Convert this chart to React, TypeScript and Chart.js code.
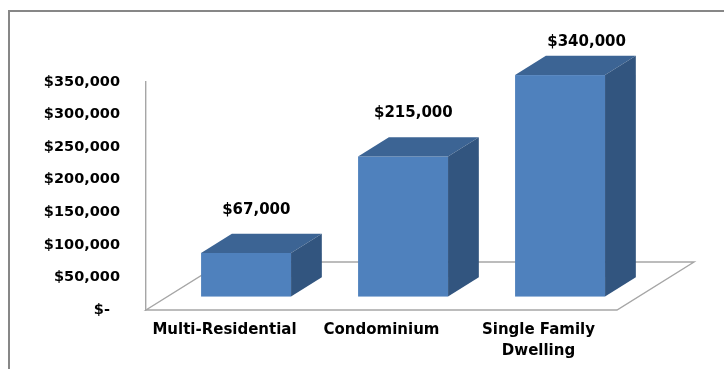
import React, { useEffect, useRef } from 'react';
import { Chart, registerables } from 'chart.js';

Chart.register(...registerables);

const categories: (string | string[])[] = ['Multi-Residential', 'Condominium', ['Single Family', 'Dwelling']];
const values = [67000, 215000, 340000];
const yMin = 0;
const yMax = 350000;
const yStep = 50000;

const FONT = 'DejaVu Sans';
const FACE = '#4f81bd';
const TOP = '#3c6494';
const SIDE = '#32557f';
const DEPTH = { x: 77, y: -48 };
const FRONT = 0.28;
const THICK = 0.4;

const fmt = (v: number) => (v === 0 ? '$-  ' : '$' + v.toLocaleString('en-US'));

const excel3d = {
  id: 'excel3d',
  beforeDraw(chart: any) {
    const ctx = chart.ctx;
    ctx.save();
    ctx.strokeStyle = '#878787';
    ctx.lineWidth = 2;
    ctx.strokeRect(9, 11, 900, 600);
    ctx.restore();
  },
  beforeDatasetsDraw(chart: any) {
    const { ctx, chartArea: a } = chart;
    ctx.save();
    ctx.strokeStyle = '#a6a6a6';
    ctx.lineWidth = 1.4;
    ctx.beginPath();
    ctx.moveTo(a.left, a.bottom);
    ctx.lineTo(a.right, a.bottom);
    ctx.lineTo(a.right + DEPTH.x, a.bottom + DEPTH.y);
    ctx.lineTo(a.left + DEPTH.x, a.bottom + DEPTH.y);
    ctx.closePath();
    ctx.stroke();
    ctx.restore();
  },
  afterDatasetsDraw(chart: any) {
    const { ctx } = chart;
    const meta = chart.getDatasetMeta(0);
    const data = chart.data.datasets[0].data as number[];
    ctx.save();
    meta.data.forEach((el: any, i: number) => {
      const { x, y, base, width } = el.getProps(['x', 'y', 'base', 'width'], true);
      const L = x - width / 2 + DEPTH.x * FRONT;
      const R = L + width;
      const T = y + DEPTH.y * FRONT;
      const B = base + DEPTH.y * FRONT;
      const dx = DEPTH.x * THICK;
      const dy = DEPTH.y * THICK;
      // front
      ctx.fillStyle = FACE;
      ctx.fillRect(L, T, width, B - T);
      // top
      ctx.fillStyle = TOP;
      ctx.beginPath();
      ctx.moveTo(L, T);
      ctx.lineTo(R, T);
      ctx.lineTo(R + dx, T + dy);
      ctx.lineTo(L + dx, T + dy);
      ctx.closePath();
      ctx.fill();
      // side
      ctx.fillStyle = SIDE;
      ctx.beginPath();
      ctx.moveTo(R, T);
      ctx.lineTo(R + dx, T + dy);
      ctx.lineTo(R + dx, B + dy);
      ctx.lineTo(R, B);
      ctx.closePath();
      ctx.fill();
      // label
      let ly = T + dy - 24;
      let lx = L + width / 2 + dx / 3;
      const minY = 42;
      if (ly < minY) {
        lx += (minY - ly) * (DEPTH.x / -DEPTH.y);
        ly = minY;
      }
      ctx.fillStyle = '#000';
      ctx.font = `bold 15px "${FONT}"`;
      ctx.textAlign = 'center';
      ctx.textBaseline = 'middle';
      ctx.fillText(fmt(data[i]), lx, ly);
    });
    ctx.restore();
  },
};

export default function App() {
  const ref = useRef<HTMLCanvasElement>(null);
  useEffect(() => {
    document.body.style.margin = '0';
    if (!ref.current) return;
    const chart = new Chart(ref.current, {
      type: 'bar',
      data: {
        labels: categories,
        datasets: [
          {
            data: values,
            backgroundColor: 'rgba(0,0,0,0)',
            borderWidth: 0,
            barPercentage: 0.573,
            categoryPercentage: 1,
          },
        ],
      },
      options: {
        animation: false,
        responsive: true,
        maintainAspectRatio: false,
        layout: { padding: { top: 82, right: 107, bottom: 0, left: 0 } },
        plugins: { legend: { display: false }, tooltip: { enabled: false } },
        scales: {
          x: {
            grid: { display: false, drawTicks: false },
            border: { display: false },
            ticks: {
              font: { family: FONT, size: 15, weight: 'bold', lineHeight: 1.4 },
              color: '#000',
              padding: 10,
              maxRotation: 0,
              autoSkip: false,
            },
            afterFit: (s: any) => {
              s.height = 59;
            },
          },
          y: {
            min: yMin,
            max: yMax,
            grid: { display: false, drawTicks: false },
            border: { display: true, color: '#a6a6a6', width: 1.4 },
            ticks: {
              stepSize: yStep,
              callback: (v: any) => fmt(Number(v)),
              font: { family: FONT, size: 14.5, weight: 'bold' },
              color: '#000',
              padding: 26,
            },
            afterFit: (s: any) => {
              s.width = 146;
            },
          },
        },
      },
      plugins: [excel3d],
    });
    return () => chart.destroy();
  }, []);
  return (
    <div style={{ width: 724, height: 369, position: 'relative' }}>
      <canvas ref={ref} />
    </div>
  );
}
